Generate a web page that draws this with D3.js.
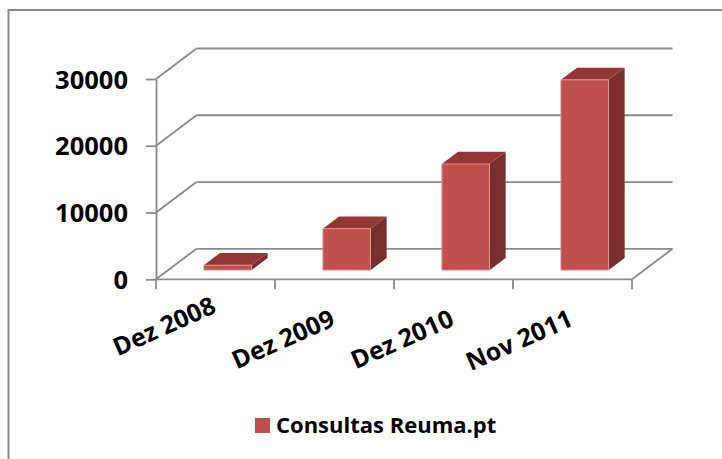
<!DOCTYPE html>
<html>
<head>
<meta charset="utf-8">
<script src="https://cdn.jsdelivr.net/npm/d3@7"></script>
<style>
  body { margin: 0; background: #fff; }
  text { font-family: "Open Sans", "Noto Sans", sans-serif; font-weight: bold; fill: #000; }
</style>
</head>
<body>
<script>
// data
const categories = ["Dez 2008", "Dez 2009", "Dez 2010", "Nov 2011"];
const values = [750, 6200, 15900, 28500];
const yTicks = [0, 10000, 20000, 30000];
const seriesName = "Consultas Reuma.pt";

const W = 722, H = 459;
const gridColor = "#8a8a8a";
const frontColor = "#c0504d", topColor = "#943634", sideColor = "#772e2c";

// oblique depth offset of the 3D box
const dx = 40.5, dy = -30.5;

const svg = d3.select("body").append("svg")
  .attr("width", W).attr("height", H);

// chart area border (runs off the right/bottom edge)
svg.append("rect")
  .attr("x", 8.5).attr("y", 10)
  .attr("width", 800).attr("height", 500)
  .attr("fill", "none").attr("stroke", gridColor).attr("stroke-width", 2);

const x = d3.scaleBand().domain(categories).range([156, 632]).padding(0);
const y = d3.scaleLinear().domain([0, 30000]).range([279.3, 79]);

const x0 = x.range()[0], x1 = x.range()[1];

// back wall gridlines + side wall diagonals
const grid = svg.append("g").attr("stroke", gridColor).attr("stroke-width", 1.8).attr("fill", "none");
yTicks.forEach(v => {
  grid.append("line")
    .attr("x1", x0 + dx).attr("y1", y(v) + dy)
    .attr("x2", x1 + dx).attr("y2", y(v) + dy);
  grid.append("line")
    .attr("x1", x0).attr("y1", y(v))
    .attr("x2", x0 + dx).attr("y2", y(v) + dy);
});
// floor right edge and front edge
grid.append("line")
  .attr("x1", x1).attr("y1", y(0))
  .attr("x2", x1 + dx).attr("y2", y(0) + dy);
grid.append("line")
  .attr("x1", x0).attr("y1", y(0))
  .attr("x2", x1).attr("y2", y(0));

// category ticks at band edges
const edges = categories.map(c => x(c)).concat([x1]);
grid.selectAll(".xt").data(edges).enter().append("line")
  .attr("x1", d => d).attr("x2", d => d)
  .attr("y1", y(0)).attr("y2", y(0) + 10);

// y axis
const yAxis = d3.axisLeft(y).tickValues(yTicks).tickSize(10).tickSizeOuter(0).tickPadding(18)
  .tickFormat(d3.format("d"));
const ya = svg.append("g").attr("transform", `translate(${x0},0)`).call(yAxis);
ya.selectAll("path, line").attr("stroke", gridColor).attr("stroke-width", 1.8);
ya.selectAll("text").style("font-size", "25.5px").attr("fill", "#000").attr("dy", "0.36em");

// bars as 3D boxes
const f0 = 0.3, f1 = 0.7;   // depth of bar front/back faces
const bw = x.bandwidth() * 0.4;
const bars = svg.append("g");
categories.forEach((c, i) => {
  const cx = x(c) + x.bandwidth() / 2;
  const L = cx - bw / 2 + dx * f0, R = cx + bw / 2 + dx * f0;
  const B = y(0) + dy * f0, T = y(values[i]) + dy * f0;
  const ox = dx * (f1 - f0), oy = dy * (f1 - f0);
  const g = bars.append("g");
  g.append("polygon").attr("fill", sideColor)
    .attr("points", [[R, T], [R + ox, T + oy], [R + ox, B + oy], [R, B]].join(" "));
  g.append("polygon").attr("fill", topColor)
    .attr("points", [[L, T], [L + ox, T + oy], [R + ox, T + oy], [R, T]].join(" "));
  g.append("rect").attr("fill", frontColor)
    .attr("stroke", "#e8a3a1").attr("stroke-width", 0.8)
    .attr("x", L).attr("y", T).attr("width", R - L).attr("height", B - T);
});

// rotated category labels (the first one sits a little higher, as in the original)
svg.append("g").selectAll("text").data(categories).enter().append("text")
  .attr("transform", (d, i) => `translate(${x(d) + x.bandwidth() / 2 + 2},${i === 0 ? 312 : 325}) rotate(-24)`)
  .attr("text-anchor", "end")
  .style("font-size", "25px")
  .text(d => d);

// legend
svg.append("rect").attr("x", 255).attr("y", 418).attr("width", 15).attr("height", 15).attr("fill", frontColor);
svg.append("text").attr("x", 276).attr("y", 433).style("font-size", "22px").text(seriesName);
</script>
</body>
</html>
